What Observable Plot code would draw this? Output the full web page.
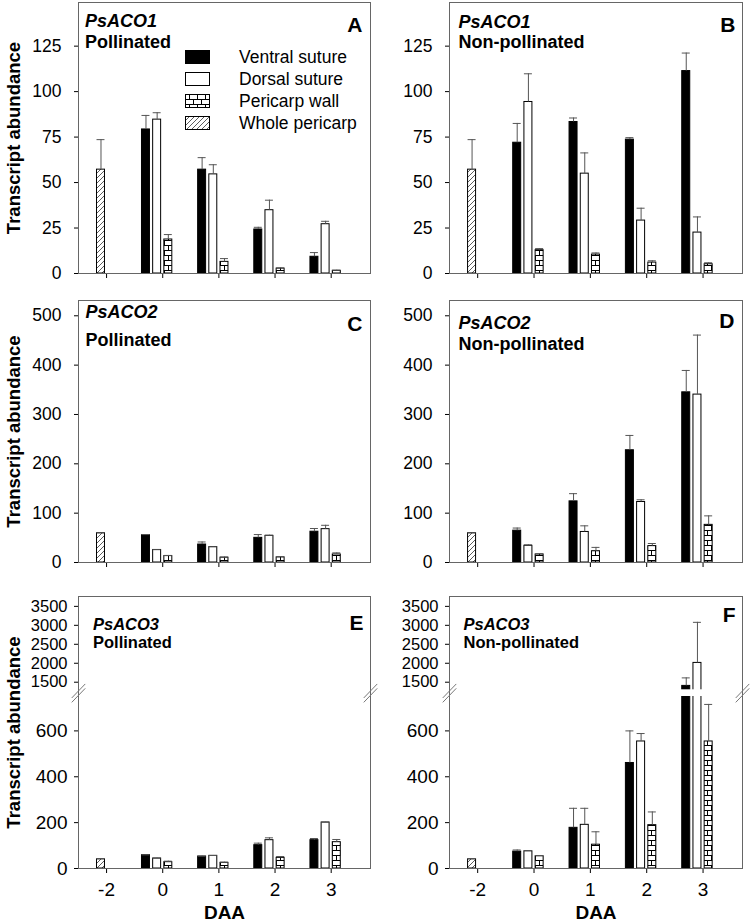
<!DOCTYPE html>
<html><head><meta charset="utf-8">
<script src="https://cdn.jsdelivr.net/npm/d3@7"></script>
<script src="https://cdn.jsdelivr.net/npm/@observablehq/plot@0.6"></script>
<style>
body{margin:0;background:#fff;}
#fig{position:relative;width:750px;height:924px;font-family:"Liberation Sans",Arial,sans-serif;background:#fff;overflow:hidden;}
#fig svg.panel{position:absolute;}
.leg{position:absolute;left:0;top:0;}
.leg .row{position:absolute;left:185px;height:22px;display:flex;align-items:center;}
.leg .row svg{width:25px;height:14px;display:block;}
.leg .row span{position:absolute;left:54px;white-space:nowrap;font-size:17.5px;color:#000;}
</style></head><body>
<svg width="0" height="0" style="position:absolute">
<defs>
<pattern id="brick" patternUnits="userSpaceOnUse" width="8" height="10">
<rect width="8" height="10" fill="#fff"/>
<path d="M0,0.5H8M0,5.5H8M4.5,0.5V5.5M0.5,5.5V10.5" stroke="#000" stroke-width="1" fill="none"/>
</pattern>
<pattern id="hatch" patternUnits="userSpaceOnUse" width="5" height="5">
<rect width="5" height="5" fill="#fff"/>
<path d="M0,5L5,0M-1,1L1,-1M4,6L6,4" stroke="#333" stroke-width="0.8" fill="none"/>
</pattern>
</defs>
</svg>
<div id="fig"></div>
<script>
// ---------- data ----------
const daa = ["-2", "0", "1", "2", "3"];
const seriesNames = ["Ventral suture", "Dorsal suture", "Pericarp wall", "Whole pericarp"];

// A: PsACO1, pollinated (DAA 0..3)
const aco1PolVentral = [79.2, 57.1, 24.2, 9.2];
const aco1PolVentralSE = [7.7, 6.6, 1.2, 2.3];
const aco1PolDorsal = [84.6, 54.5, 34.8, 27.1];
const aco1PolDorsalSE = [3.8, 5.3, 5.5, 1.6];
const aco1PolWall = [18.7, 6.4, 2.7, 1.5];
const aco1PolWallSE = [2.7, 1.8, 0.4, 0.3];
// B: PsACO1, non-pollinated
const aco1NonVentral = [71.9, 83.3, 73.6, 111.3];
const aco1NonVentralSE = [10.6, 2.2, 1.1, 9.9];
const aco1NonDorsal = [94.3, 54.9, 29.1, 22.5];
const aco1NonDorsalSE = [15.5, 11.4, 6.8, 8.6];
const aco1NonWall = [12.8, 10.4, 6.0, 5.1];
const aco1NonWallSE = [0.9, 0.9, 1.0, 0.8];
const aco1Whole = 57.1, aco1WholeSE = 16.5; // DAA -2

// C: PsACO2, pollinated
const aco2PolVentral = [55.3, 36.4, 50.0, 62.4];
const aco2PolVentralSE = [1.3, 5.2, 6.6, 6.5];
const aco2PolDorsal = [25.4, 31.2, 54.0, 67.6];
const aco2PolDorsalSE = [0.6, 0.7, 1.3, 7.8];
const aco2PolWall = [13.0, 9.8, 10.4, 16.3];
const aco2PolWallSE = [1.3, 1.2, 1.3, 3.2];
// D: PsACO2, non-pollinated
const aco2NonVentral = [64.5, 123.9, 227.5, 344.9];
const aco2NonVentralSE = [5.3, 15.6, 30.0, 44.3];
const aco2NonDorsal = [33.9, 61.9, 122.6, 340.3];
const aco2NonDorsalSE = [2.0, 12.4, 4.5, 120.6];
const aco2NonWall = [16.3, 22.8, 33.2, 76.3];
const aco2NonWallSE = [1.3, 7.8, 5.3, 18.2];
const aco2Whole = 59.3, aco2WholeSE = 0.8;

// E: PsACO3, pollinated
const aco3PolVentral = [58.1, 52.3, 101.7, 123.5];
const aco3PolVentralSE = [1.5, 1.5, 8.8, 7.3];
const aco3PolDorsal = [43.6, 55.2, 123.5, 200.6];
const aco3PolDorsalSE = [1.4, 1.5, 10.2, 1.4];
const aco3PolWall = [27.6, 24.7, 46.5, 114.8];
const aco3PolWallSE = [4.4, 2.9, 5.8, 11.7];
// F: PsACO3, non-pollinated
const aco3NonVentral = [73.6, 177.4, 460.1, 1403];
const aco3NonVentralSE = [7.2, 85.1, 139.9, 211];
const aco3NonDorsal = [75.0, 190.4, 553.9, 2009];
const aco3NonDorsalSE = [3.0, 72.1, 34.6, 1070];
const aco3NonWall = [53.4, 103.8, 189.0, 553.9];
const aco3NonWallSE = [2.9, 56.3, 57.6, 161.5];
const aco3Whole = 40.0, aco3WholeSE = 2.8;

// axis ticks
const ticksACO1 = [0, 25, 50, 75, 100, 125];
const ticksACO2 = [0, 100, 200, 300, 400, 500];
const ticksACO3 = [0, 200, 400, 600, 1500, 2000, 2500, 3000, 3500];

// ---------- helpers ----------
function build(v, vs, d, ds, w, ws, whole, wholeSE) {
  const out = [{series: "Whole pericarp", i: 0, v: whole, se: wholeSE}];
  for (let k = 0; k < 4; k++) {
    out.push({series: "Ventral suture", i: k + 1, v: v[k], se: vs[k]});
    out.push({series: "Dorsal suture", i: k + 1, v: d[k], se: ds[k]});
    out.push({series: "Pericarp wall", i: k + 1, v: w[k], se: ws[k]});
  }
  return out;
}
const slotOff = {"Ventral suture": -1.5, "Dorsal suture": -0.5, "Pericarp wall": 0.5, "Whole pericarp": -0.5};
const fills = {"Ventral suture": "black", "Dorsal suture": "white", "Pericarp wall": "white", "Whole pericarp": "white"};
// sentinel stroke colours used to find the patterned marks after rendering
const sentinel = {"Ventral suture": "#000000", "Dorsal suture": "#000000", "Pericarp wall": "#010101", "Whole pericarp": "#020202"};
const patt = {"#010101": "url(#brick)", "#020202": "url(#hatch)"};
const FONT = "Liberation Sans, Arial, Helvetica, sans-serif";

// broken axis for PsACO3 (0–750 | 1300–3760)
const LOW_MAX = 750, UP_MIN = 1300, UP_MAX = 3760;
const LOW_PX = 172, GAP_PX = 6.7, UP_PX = 93.3;
function brk3(v) {
  if (v <= LOW_MAX) return v * LOW_PX / LOW_MAX;
  if (v < UP_MIN) return LOW_PX + (v - LOW_MAX) / (UP_MIN - LOW_MAX) * GAP_PX;
  return LOW_PX + GAP_PX + (v - UP_MIN) / (UP_MAX - UP_MIN) * UP_PX;
}

const fig = document.getElementById("fig");
const XDOM = [-0.5, 4.7];
const SLOT = 0.199, HW = 0.071;

function panel(p) {
  const brk = p.broken ? brk3 : (v => v);
  const cx = d => d.i + slotOff[d.series] * SLOT;
  const marks = [];
  for (const s of seriesNames) {
    const sd = p.data.filter(d => d.series === s);
    marks.push(Plot.rect(sd, {
      x1: d => cx(d) - HW, x2: d => cx(d) + HW, y1: 0, y2: d => brk(d.v),
      fill: fills[s], stroke: sentinel[s], strokeWidth: 1, clip: true
    }));
  }
  marks.push(Plot.ruleX(p.data, {x: cx, y1: d => brk(d.v), y2: d => brk(d.v + d.se), stroke: "#555", strokeWidth: 1, clip: true}));
  marks.push(Plot.ruleY(p.data, {y: d => brk(d.v + d.se), x1: d => cx(d) - HW, x2: d => cx(d) + HW, stroke: "#555", strokeWidth: 1, clip: true}));
  if (p.broken) {
    marks.push(Plot.rect([0], {x1: XDOM[0], x2: XDOM[1], y1: brk(LOW_MAX), y2: brk(UP_MIN), fill: "white"}));
  }
  marks.push(Plot.frame({stroke: "#666", strokeWidth: 1}));
  if (p.broken) {
    const mid = (brk(LOW_MAX) + brk(UP_MIN)) / 2;
    const bm = [];
    for (const xe of XDOM) for (const o of [-2.2, 2.2]) bm.push({xe, o});
    marks.push(Plot.link(bm, {x1: d => d.xe - 0.12, x2: d => d.xe + 0.12, y1: d => mid - 7 + d.o, y2: d => mid + 7 + d.o, stroke: "#777", strokeWidth: 1}));
  }
  // titles
  marks.push(Plot.text([p.gene], {frameAnchor: "top-left", dx: p.tdx, dy: p.tdy1, text: d => d, textAnchor: "start", lineAnchor: "middle", fontWeight: "bold", fontStyle: "italic", fontSize: p.tfs, fill: "black"}));
  marks.push(Plot.text([p.cond], {frameAnchor: "top-left", dx: p.tdx, dy: p.tdy2, text: d => d, textAnchor: "start", lineAnchor: "middle", fontWeight: "bold", fontSize: p.tfs, fill: "black"}));
  marks.push(Plot.text([p.letter], {frameAnchor: "top-right", dx: p.ldx, dy: p.ldy, text: d => d, textAnchor: "end", lineAnchor: "middle", fontWeight: "bold", fontSize: 21, fill: "black"}));
  if (p.ylabel) {
    marks.push(Plot.text(["Transcript abundance"], {frameAnchor: "left", dx: -64, text: d => d, rotate: -90, textAnchor: "middle", lineAnchor: "middle", fontWeight: "bold", fontSize: 18.5, fill: "black"}));
  }
  if (p.xlabel) {
    marks.push(Plot.text(["DAA"], {frameAnchor: "bottom", dy: 44, text: d => d, textAnchor: "middle", lineAnchor: "middle", fontWeight: "bold", fontSize: 19, fill: "black"}));
  }
  const yt = p.ticks.map(brk);
  const svg = Plot.plot({
    width: 375, height: p.h,
    marginLeft: p.mL, marginRight: p.mR, marginTop: p.mT, marginBottom: p.mB,
    x: {type: "linear", domain: XDOM, ticks: [0, 1, 2, 3, 4], tickFormat: i => p.xlabel ? daa[Math.round(i)] : "", tickSize: 5, tickPadding: 9, label: null},
    y: {type: "linear", domain: p.ydom, ticks: yt, tickFormat: t => {
          const k = yt.findIndex(u => Math.abs(u - t) < 1e-6); return k >= 0 ? String(p.ticks[k]) : ""; },
        tickSize: 4, tickPadding: p.tickPad, label: null},
    style: {fontFamily: FONT, fontSize: p.fs + "px", color: "black", background: "transparent", overflow: "visible"},
    marks
  });
  svg.classList.add("panel");
  svg.style.left = p.left + "px";
  svg.style.top = p.top + "px";
  // apply the fill patterns to the pericarp-wall and whole-pericarp bars
  for (const [col, url] of Object.entries(patt)) {
    d3.select(svg).selectAll("g").filter(function () {
      const s = this.getAttribute("stroke");
      return s && s.toLowerCase() === col;
    }).each(function () {
      d3.select(this).attr("fill", url).attr("stroke", "#000");
      d3.select(this).selectAll("rect").attr("fill", url).attr("stroke", "#000");
    });
  }
  // smaller labels for the compressed upper segment of the broken axis
  if (p.broken) {
    d3.select(svg).selectAll("text").filter(function () {
      return ["1500", "2000", "2500", "3000", "3500"].includes(this.textContent.trim());
    }).style("font-size", "16.5px");
  }
  fig.appendChild(svg);
}

const L = {left: 0, mL: 78, mR: 5};
const R = {left: 375, mL: 74, mR: 8};
const row1 = {top: 0, h: 290, mT: 2, mB: 17, fs: 17.5, tickPad: 13, tfs: 18};
const row2 = {top: 290, h: 290, mT: 10, mB: 18, fs: 17.5, tickPad: 13, tfs: 18};
const row3 = {top: 580, h: 344, mT: 16, mB: 56, fs: 19, tickPad: 7, tfs: 16.5};

panel({...L, ...row1, ydom: [0, 149], ticks: ticksACO1, gene: "PsACO1", cond: "Pollinated", letter: "A",
  tdx: 6.5, tdy1: 19, tdy2: 40, ldx: -8, ldy: 22.5, ylabel: true,
  data: build(aco1PolVentral, aco1PolVentralSE, aco1PolDorsal, aco1PolDorsalSE, aco1PolWall, aco1PolWallSE, aco1Whole, aco1WholeSE)});
panel({...R, ...row1, ydom: [0, 149], ticks: ticksACO1, gene: "PsACO1", cond: "Non-pollinated", letter: "B",
  tdx: 9, tdy1: 20, tdy2: 40, ldx: -7, ldy: 23,
  data: build(aco1NonVentral, aco1NonVentralSE, aco1NonDorsal, aco1NonDorsalSE, aco1NonWall, aco1NonWallSE, aco1Whole, aco1WholeSE)});
panel({...L, ...row2, ydom: [0, 531], ticks: ticksACO2, gene: "PsACO2", cond: "Pollinated", letter: "C",
  tdx: 7, tdy1: 12, tdy2: 40, ldx: -8, ldy: 24, ylabel: true,
  data: build(aco2PolVentral, aco2PolVentralSE, aco2PolDorsal, aco2PolDorsalSE, aco2PolWall, aco2PolWallSE, aco2Whole, aco2WholeSE)});
panel({...R, ...row2, ydom: [0, 531], ticks: ticksACO2, gene: "PsACO2", cond: "Non-pollinated", letter: "D",
  tdx: 9, tdy1: 22.5, tdy2: 43.5, ldx: -8, ldy: 21,
  data: build(aco2NonVentral, aco2NonVentralSE, aco2NonDorsal, aco2NonDorsalSE, aco2NonWall, aco2NonWallSE, aco2Whole, aco2WholeSE)});
panel({...L, ...row3, ydom: [0, brk3(UP_MAX)], broken: true, ticks: ticksACO3, gene: "PsACO3", cond: "Pollinated", letter: "E",
  tdx: 14.5, tdy1: 28, tdy2: 46.5, ldx: -7, ldy: 27, ylabel: true, xlabel: true,
  data: build(aco3PolVentral, aco3PolVentralSE, aco3PolDorsal, aco3PolDorsalSE, aco3PolWall, aco3PolWallSE, aco3Whole, aco3WholeSE)});
panel({...R, ...row3, ydom: [0, brk3(UP_MAX)], broken: true, ticks: ticksACO3, gene: "PsACO3", cond: "Non-pollinated", letter: "F",
  tdx: 14, tdy1: 28, tdy2: 46.5, ldx: -7, ldy: 19, xlabel: true,
  data: build(aco3NonVentral, aco3NonVentralSE, aco3NonDorsal, aco3NonDorsalSE, aco3NonWall, aco3NonWallSE, aco3Whole, aco3WholeSE)});

// ---------- legend (panel A) ----------
const legFill = {"Ventral suture": "black", "Dorsal suture": "white", "Pericarp wall": "url(#brick)", "Whole pericarp": "url(#hatch)"};
const legCenters = [57.3, 79, 101, 123];
const leg = document.createElement("div");
leg.className = "leg";
seriesNames.forEach((s, k) => {
  const row = document.createElement("div");
  row.className = "row";
  row.style.top = (legCenters[k] - 11) + "px";
  row.innerHTML = `<svg viewBox="0 0 25 14"><rect x="0.5" y="0.5" width="24" height="13" fill="${legFill[s]}" stroke="#000" stroke-width="1"/></svg><span>${s}</span>`;
  leg.appendChild(row);
});
fig.appendChild(leg);
</script>
</body></html>
